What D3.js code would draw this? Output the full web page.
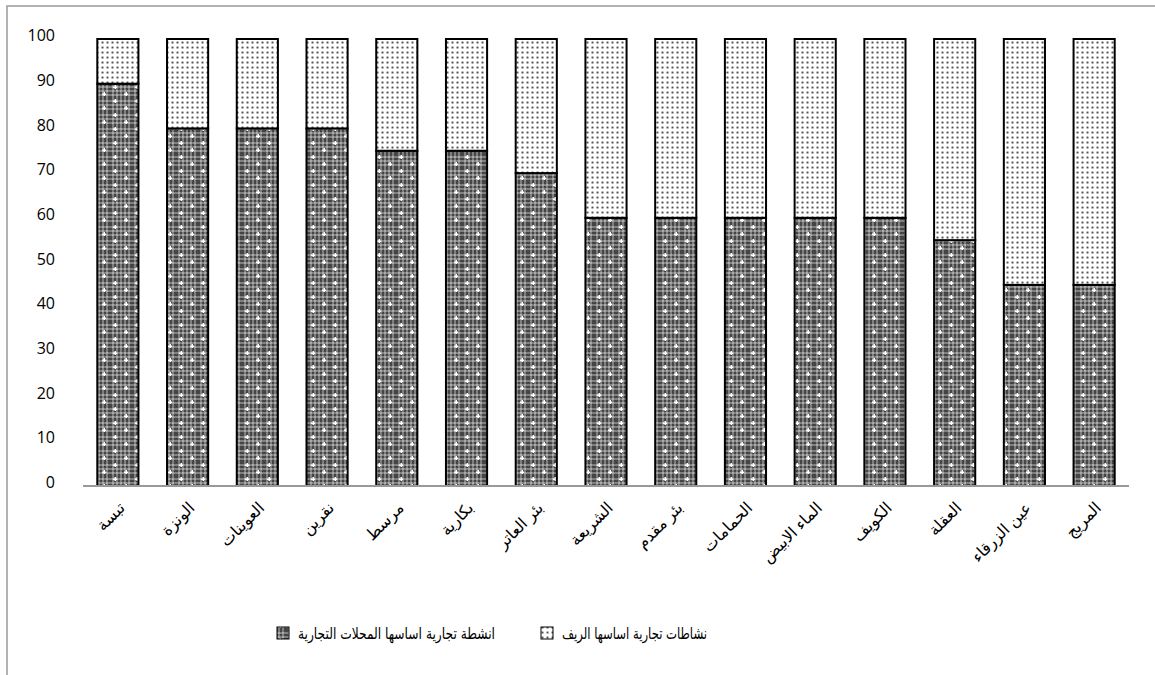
<!DOCTYPE html>
<html>
<head>
<meta charset="utf-8">
<script src="https://cdn.jsdelivr.net/npm/d3@7"></script>
<style>
  body { margin: 0; background: #fff; }
  svg { display: block; }
  .tick text { font-family: "Open Sans", "DejaVu Sans", sans-serif; }
</style>
</head>
<body>
<div id="chart"></div>
<script>
// categories, left to right
var places = ["تبسة", "الونزة", "العوينات", "نقرين", "مرسط", "بكارية", "بئر العاتر",
  "الشريعة", "بئر مقدم", "الحمامات", "الماء الابيض", "الكويف", "العقلة", "عين الزرقاء", "المريج"];

// share of activities based on shops (bottom, dark)
var shopShare = [90, 80, 80, 80, 75, 75, 70, 60, 60, 60, 60, 60, 55, 45, 45];
// share of activities based on the countryside (top, light)
var ruralShare = [10, 20, 20, 20, 25, 25, 30, 40, 40, 40, 40, 40, 45, 55, 55];

var seriesNames = ["انشطة تجارية اساسها المحلات التجارية", "نشاطات تجارية اساسها الريف"];
var yTicks = [0, 10, 20, 30, 40, 50, 60, 70, 80, 90, 100];

var width = 1155, height = 675;
var margin = {top: 39, right: 26, bottom: 189, left: 83};

var svg = d3.select("#chart").append("svg")
  .attr("width", width)
  .attr("height", height);

// fill patterns
var defs = svg.append("defs");

var base = defs.append("pattern")
  .attr("id", "darkBase")
  .attr("patternUnits", "userSpaceOnUse")
  .attr("width", 4).attr("height", 4);
base.append("rect").attr("width", 4).attr("height", 4).attr("fill", "#808080");
base.append("rect").attr("x", 0).attr("y", 0).attr("width", 2).attr("height", 2).attr("fill", "#454545");
base.append("rect").attr("x", 2).attr("y", 2).attr("width", 2).attr("height", 2).attr("fill", "#aaaaaa");

var dark = defs.append("pattern")
  .attr("id", "darkFill")
  .attr("patternUnits", "userSpaceOnUse")
  .attr("width", 22).attr("height", 14);
dark.append("rect").attr("width", 22).attr("height", 14).attr("fill", "url(#darkBase)");
[[5, 3], [16, 10]].forEach(function(p) {
  dark.append("rect").attr("x", p[0] - 2).attr("y", p[1] - 0.5).attr("width", 4).attr("height", 1.5).attr("fill", "#fff");
  dark.append("rect").attr("x", p[0] - 0.5).attr("y", p[1] - 2).attr("width", 1.5).attr("height", 4).attr("fill", "#fff");
});

var light = defs.append("pattern")
  .attr("id", "lightFill")
  .attr("patternUnits", "userSpaceOnUse")
  .attr("width", 5).attr("height", 5);
light.append("rect").attr("width", 5).attr("height", 5).attr("fill", "#fff");
light.append("circle").attr("cx", 2.5).attr("cy", 2.5).attr("r", 1.5).attr("fill", "#b8b8b8");
light.append("circle").attr("cx", 2.5).attr("cy", 2.5).attr("r", 0.8).attr("fill", "#555");

var fills = ["url(#darkFill)", "url(#lightFill)"];

// outer frame
svg.append("rect")
  .attr("x", 7).attr("y", 6)
  .attr("width", width + 10).attr("height", height + 10)
  .attr("fill", "none")
  .attr("stroke", "#999")
  .attr("stroke-width", 1.5);

var x = d3.scaleBand()
  .domain(places)
  .range([margin.left, width - margin.right])
  .paddingInner(0.41)
  .paddingOuter(0.205);

var y = d3.scaleLinear()
  .domain([0, 100])
  .range([height - margin.bottom, margin.top]);

var rows = places.map(function(p, i) {
  return {place: p, shop: shopShare[i], rural: ruralShare[i]};
});
var stacked = d3.stack().keys(["shop", "rural"])(rows);

svg.append("g")
  .selectAll("g")
  .data(stacked)
  .join("g")
    .attr("fill", function(d, i) { return fills[i]; })
  .selectAll("rect")
  .data(function(d) { return d; })
  .join("rect")
    .attr("x", function(d) { return x(d.data.place); })
    .attr("y", function(d) { return y(d[1]); })
    .attr("width", x.bandwidth())
    .attr("height", function(d) { return y(d[0]) - y(d[1]); })
    .attr("stroke", "#000")
    .attr("stroke-width", 2);

// y axis labels only
var yAxis = svg.append("g")
  .attr("transform", "translate(" + (margin.left - 28) + ",0)")
  .call(d3.axisLeft(y).tickValues(yTicks).tickSize(0).tickPadding(0));
yAxis.select(".domain").remove();
yAxis.selectAll("text")
  .attr("font-size", 16)
  .attr("fill", "#000")
  .attr("dy", "0.1em");

// baseline
svg.append("line")
  .attr("x1", margin.left).attr("x2", width - margin.right)
  .attr("y1", y(0)).attr("y2", y(0))
  .attr("stroke", "#999")
  .attr("stroke-width", 2);

// x labels, rotated
var xAxis = svg.append("g")
  .attr("transform", "translate(0," + y(0) + ")")
  .call(d3.axisBottom(x).tickSize(0).tickPadding(0));
xAxis.select(".domain").remove();
xAxis.selectAll("text")
  .attr("font-family", "'DejaVu Sans', sans-serif")
  .attr("font-size", 16)
  .attr("fill", "#000")
  .attr("text-anchor", "end")
  .attr("direction", "ltr")
  .attr("transform", "translate(4,19) rotate(-45)")
  .attr("dy", "0.35em");

// legend
var legendItems = [
  {name: seriesNames[0], fill: fills[0], sx: 277, w: 197},
  {name: seriesNames[1], fill: fills[1], sx: 541, w: 145}
];
var legend = svg.append("g").attr("class", "legend");
legend.selectAll("g")
  .data(legendItems)
  .join("g")
  .each(function(d) {
    var g = d3.select(this);
    g.append("rect")
      .attr("x", d.sx).attr("y", 627)
      .attr("width", 12).attr("height", 12)
      .attr("fill", d.fill)
      .attr("stroke", "#000")
      .attr("stroke-width", 1);
    g.append("text")
      .attr("x", d.sx + 21).attr("y", 633)
      .attr("dy", "0.35em")
      .attr("font-family", "'DejaVu Sans', sans-serif")
      .attr("font-size", 16)
      .attr("text-anchor", "start")
      .attr("direction", "ltr")
      .attr("textLength", d.w)
      .attr("lengthAdjust", "spacingAndGlyphs")
      .text(d.name);
  });
</script>
</body>
</html>
